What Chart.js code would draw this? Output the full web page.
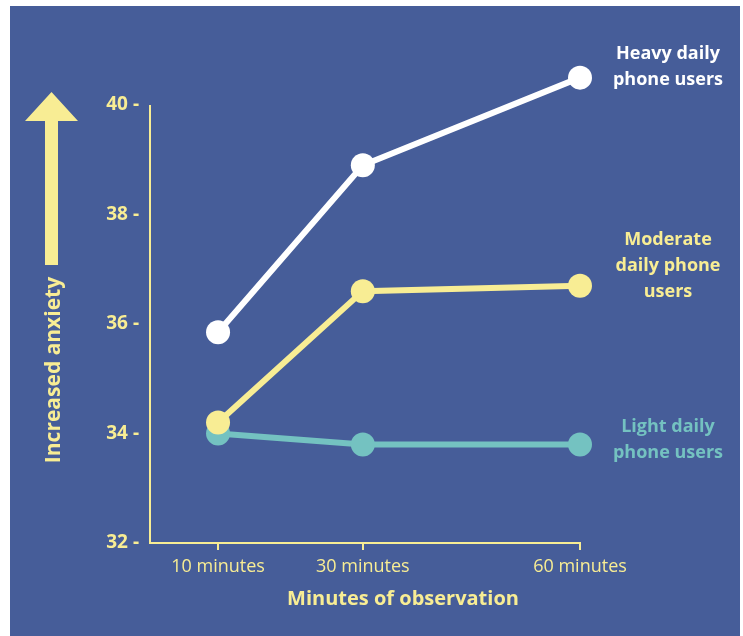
<!DOCTYPE html>
<html>
<head>
<meta charset="utf-8">
<script src="https://cdn.jsdelivr.net/npm/chart.js@4/dist/chart.umd.min.js"></script>
<style>
  html, body { margin: 0; padding: 0; background: #ffffff; }
  canvas { display: block; }
</style>
</head>
<body>
<canvas id="chart" width="743" height="636"></canvas>
<script>
// Observation times (minutes) and mean anxiety score for each user group
const minutes = [10, 30, 60];
const heavyUsers = [35.85, 38.9, 40.5];
const moderateUsers = [34.2, 36.6, 36.7];
const lightUsers = [34.0, 33.8, 33.8];
const yTicks = [32, 34, 36, 38, 40];

const seriesLabels = [
  ['Heavy daily', 'phone users'],
  ['Moderate', 'daily phone', 'users'],
  ['Light daily', 'phone users']
];

const PANEL = '#465d99';
const YELLOW = '#f8ed94';
const TEAL = '#74c2c1';
const WHITE = '#ffffff';

const toPoints = vals => vals.map((v, i) => ({ x: minutes[i], y: v }));

// Backdrop panel, y axis line, arrow, axis titles and series labels
const decorations = {
  id: 'decorations',
  beforeDraw(chart) {
    const ctx = chart.ctx;
    ctx.save();
    ctx.fillStyle = '#ffffff';
    ctx.fillRect(0, 0, chart.width, chart.height);
    ctx.fillStyle = PANEL;
    ctx.fillRect(10, 6, 730, 630);
    ctx.restore();
  },
  beforeDatasetsDraw(chart) {
    // y axis line spans only the labelled range
    const ctx = chart.ctx;
    const y = chart.scales.y;
    const x = chart.chartArea.left;
    ctx.save();
    ctx.strokeStyle = YELLOW;
    ctx.lineWidth = 2;
    ctx.beginPath();
    ctx.moveTo(x, y.getPixelForValue(yTicks[0]) + 1);
    ctx.lineTo(x, y.getPixelForValue(yTicks[yTicks.length - 1]));
    ctx.stroke();
    ctx.restore();
  },
  afterDraw(chart) {
    const ctx = chart.ctx;
    ctx.save();

    // upward arrow
    ctx.fillStyle = YELLOW;
    ctx.beginPath();
    ctx.moveTo(51.5, 92);
    ctx.lineTo(78, 121);
    ctx.lineTo(58, 121);
    ctx.lineTo(58, 265);
    ctx.lineTo(45, 265);
    ctx.lineTo(45, 121);
    ctx.lineTo(25, 121);
    ctx.closePath();
    ctx.fill();

    // rotated y title
    ctx.save();
    ctx.translate(54, 370);
    ctx.rotate(-Math.PI / 2);
    ctx.font = 'bold 21px "Open Sans"';
    ctx.textAlign = 'center';
    ctx.textBaseline = 'middle';
    ctx.fillText('Increased anxiety', 0, 0);
    ctx.restore();

    // x title
    ctx.font = 'bold 20px "Open Sans"';
    ctx.textAlign = 'center';
    ctx.textBaseline = 'middle';
    ctx.fillStyle = YELLOW;
    ctx.fillText('Minutes of observation', 403, 599);

    // series labels at the right
    const blocks = [
      { lines: seriesLabels[0], color: WHITE, y: 54 },
      { lines: seriesLabels[1], color: YELLOW, y: 240 },
      { lines: seriesLabels[2], color: TEAL, y: 427 }
    ];
    ctx.font = 'bold 18px "Open Sans"';
    blocks.forEach(b => {
      ctx.fillStyle = b.color;
      b.lines.forEach((t, i) => ctx.fillText(t, 668, b.y + i * 26));
    });
    ctx.restore();
  }
};

const lineSet = (label, values, color) => ({
  label,
  data: toPoints(values),
  borderColor: color,
  backgroundColor: color,
  pointBackgroundColor: color,
  pointBorderWidth: 0,
  pointRadius: 12,
  pointHoverRadius: 12,
  borderWidth: 6,
  clip: false,
  tension: 0
});

new Chart(document.getElementById('chart'), {
  type: 'line',
  data: {
    datasets: [
      lineSet('Heavy daily phone users', heavyUsers, WHITE),
      lineSet('Moderate daily phone users', moderateUsers, YELLOW),
      lineSet('Light daily phone users', lightUsers, TEAL)
    ]
  },
  plugins: [decorations],
  options: {
    responsive: false,
    animation: false,
    events: [],
    layout: { padding: { left: 0, right: 163, top: 50.25, bottom: 0 } },
    plugins: { legend: { display: false }, tooltip: { enabled: false } },
    scales: {
      x: {
        type: 'linear',
        min: 0.6,
        max: 60,
        afterBuildTicks: s => { s.ticks = minutes.map(v => ({ value: v })); },
        afterFit: s => { s.height = 93; },
        ticks: {
          color: YELLOW,
          font: { family: 'Open Sans', size: 18 },
          padding: 6,
          maxRotation: 0,
          callback: v => v + ' minutes'
        },
        grid: { display: true, drawOnChartArea: false, drawTicks: true, tickLength: 7, color: YELLOW, lineWidth: 2 },
        border: { display: true, color: YELLOW, width: 2 }
      },
      y: {
        min: 32,
        max: 41,
        afterBuildTicks: s => { s.ticks = yTicks.map(v => ({ value: v })); },
        afterFit: s => { s.width = 150; },
        ticks: {
          color: YELLOW,
          font: { family: 'Open Sans', size: 19, weight: 'bold' },
          padding: 11,
          callback: v => v + ' -'
        },
        grid: { display: false, drawTicks: false },
        border: { display: false }
      }
    }
  }
});
</script>
</body>
</html>
